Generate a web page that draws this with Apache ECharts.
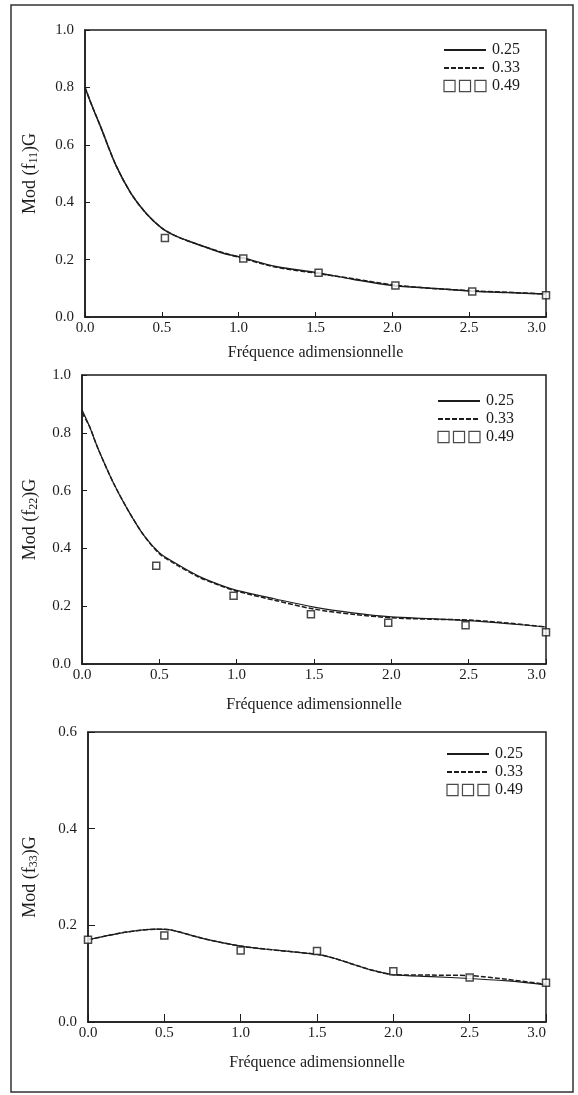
<!DOCTYPE html>
<html>
<head>
<meta charset="utf-8">
<script src="https://cdn.jsdelivr.net/npm/echarts/dist/echarts.min.js"></script>
<style>
  html, body { margin: 0; padding: 0; background: #fff; }
  #chart { width: 578px; height: 1095px; }
</style>
</head>
<body>
<div id="chart"></div>
<script>
  // fréquence adimensionnelle (axe x commun)
  var xTicks = [0, 0.5, 1.0, 1.5, 2.0, 2.5, 3.0];

  // Mod(f11)G
  var x11 = [0, 0.05, 0.1, 0.2, 0.3, 0.4, 0.5, 0.6, 0.75, 0.9, 1.0, 1.25, 1.5, 1.75, 2.0, 2.25, 2.5, 2.75, 3.0];
  var f11_025 = [0.80, 0.73, 0.665, 0.53, 0.43, 0.36, 0.31, 0.28, 0.25, 0.222, 0.21, 0.175, 0.155, 0.131, 0.11, 0.10, 0.091, 0.085, 0.08];
  var f11_033 = [0.80, 0.73, 0.665, 0.53, 0.43, 0.36, 0.31, 0.28, 0.25, 0.224, 0.208, 0.173, 0.153, 0.133, 0.112, 0.10, 0.092, 0.086, 0.08];
  var x11_049 = [0.52, 1.03, 1.52, 2.02, 2.52, 3.0];
  var f11_049 = [0.275, 0.204, 0.154, 0.11, 0.089, 0.076];

  // Mod(f22)G
  var x22 = [0, 0.05, 0.1, 0.2, 0.3, 0.4, 0.5, 0.6, 0.75, 0.9, 1.0, 1.25, 1.5, 1.75, 2.0, 2.25, 2.5, 2.75, 3.0];
  var f22_025 = [0.88, 0.82, 0.75, 0.63, 0.53, 0.445, 0.385, 0.35, 0.305, 0.272, 0.255, 0.225, 0.197, 0.177, 0.163, 0.157, 0.150, 0.140, 0.128];
  var f22_033 = [0.87, 0.82, 0.75, 0.63, 0.53, 0.445, 0.382, 0.347, 0.302, 0.27, 0.252, 0.22, 0.19, 0.172, 0.16, 0.155, 0.152, 0.142, 0.128];
  var x22_049 = [0.48, 0.98, 1.48, 1.98, 2.48, 3.0];
  var f22_049 = [0.34, 0.236, 0.172, 0.143, 0.134, 0.11];

  // Mod(f33)G
  var x33 = [0, 0.25, 0.45, 0.55, 0.75, 1.0, 1.25, 1.5, 1.6, 1.75, 1.85, 2.0, 2.25, 2.5, 2.75, 3.0];
  var f33_025 = [0.170, 0.186, 0.192, 0.190, 0.173, 0.157, 0.148, 0.140, 0.133, 0.118, 0.108, 0.098, 0.094, 0.090, 0.085, 0.077];
  var f33_033 = [0.170, 0.186, 0.192, 0.190, 0.173, 0.157, 0.148, 0.140, 0.133, 0.118, 0.108, 0.098, 0.097, 0.096, 0.088, 0.078];
  var x33_049 = [0, 0.5, 1.0, 1.5, 2.0, 2.5, 3.0];
  var f33_049 = [0.17, 0.179, 0.148, 0.147, 0.105, 0.092, 0.081];

  var serif = 'Liberation Serif, Times New Roman, serif';
  var ink = '#1c1c1c';

  function pairs(xs, ys) {
    return xs.map(function (x, i) { return [x, ys[i]]; });
  }

  var grids = [
    { left: 85, top: 30, width: 461, height: 287 },
    { left: 82, top: 375, width: 464, height: 289 },
    { left: 88, top: 732, width: 458, height: 290 }
  ];
  grids.forEach(function (g) {
    g.show = true;
    g.borderColor = ink;
    g.borderWidth = 1.5;
    g.backgroundColor = 'transparent';
  });

  function xAxis(idx, gap, tickLen) {
    return {
      gridIndex: idx, type: 'value', min: 0, max: 3.0, interval: 0.5,
      name: 'Fréquence adimensionnelle', nameLocation: 'middle', nameGap: gap,
      nameTextStyle: { fontFamily: serif, fontSize: 16, color: ink },
      axisLine: { lineStyle: { color: ink, width: 1.5 } },
      axisTick: { inside: true, length: tickLen, lineStyle: { color: ink } },
      axisLabel: {
        fontFamily: serif, fontSize: 15, color: ink, margin: 4,
        alignMaxLabel: 'right',
        formatter: function (v) { return v.toFixed(1); }
      },
      splitLine: { show: false }
    };
  }

  function yAxis(idx, max, interval, sub, gap, tickLen) {
    return {
      gridIndex: idx, type: 'value', min: 0, max: max, interval: interval,
      name: 'Mod (f{s|' + sub + '})G', nameLocation: 'middle', nameGap: gap, nameRotate: 90,
      nameTextStyle: {
        fontFamily: serif, fontSize: 18, color: ink,
        rich: { s: { fontFamily: serif, fontSize: 12, color: ink, padding: [8, 0, 0, 0] } }
      },
      axisLine: { lineStyle: { color: ink, width: 1.5 } },
      axisTick: { inside: true, length: tickLen, lineStyle: { color: ink } },
      axisLabel: {
        fontFamily: serif, fontSize: 15, color: ink, margin: 11,
        formatter: function (v) { return v.toFixed(1); }
      },
      splitLine: { show: false }
    };
  }

  function lineSeries(idx, name, xs, ys, dashed, width) {
    return {
      name: name, type: 'line', xAxisIndex: idx, yAxisIndex: idx,
      data: pairs(xs, ys), smooth: 0.3, symbol: 'none',
      lineStyle: { color: ink, width: width, type: dashed ? [5, 2] : 'solid' },
      itemStyle: { color: ink },
      z: dashed ? 3 : 2
    };
  }

  function squareSeries(idx, xs, ys) {
    return {
      name: '0.49', type: 'scatter', xAxisIndex: idx, yAxisIndex: idx,
      data: pairs(xs, ys), symbol: 'rect', symbolSize: 7,
      itemStyle: { color: '#fff', borderColor: ink, borderWidth: 1.5 },
      z: 4
    };
  }

  var squaresIcon = 'path://M0,0H10V10H0Z M14,0H24V10H14Z M28,0H38V10H28Z';

  function legend(left, top) {
    return {
      left: left, top: top, orient: 'vertical', selectedMode: false,
      itemWidth: 42, itemHeight: 12, itemGap: 2,
      textStyle: { fontFamily: serif, fontSize: 16, color: ink, lineHeight: 15, padding: [0, 0, 0, 1] },
      data: [
        { name: '0.25', itemStyle: { opacity: 0 } },
        { name: '0.33', itemStyle: { opacity: 0 } },
        { name: '0.49', icon: squaresIcon, itemStyle: { color: '#fff', borderColor: ink, borderWidth: 1.2 } }
      ]
    };
  }

  var chart = echarts.init(document.getElementById('chart'), null, { renderer: 'canvas' });
  chart.setOption({
    backgroundColor: '#fff',
    animation: false,
    graphic: [{
      type: 'rect', silent: true, z: -10,
      shape: { x: 11, y: 5, width: 562, height: 1087 },
      style: { fill: null, stroke: '#333', lineWidth: 1.5 }
    }],
    legend: [legend(438, 37), legend(432, 388), legend(441, 741)],
    grid: grids,
    xAxis: [xAxis(0, 28, 5), xAxis(1, 33, 5), xAxis(2, 33, 8)],
    yAxis: [yAxis(0, 1.0, 0.2, '11', 45, 5), yAxis(1, 1.0, 0.2, '22', 42, 5), yAxis(2, 0.6, 0.2, '33', 48, 7)],
    series: [
      lineSeries(0, '0.25', x11, f11_025, false, 1.5),
      lineSeries(0, '0.33', x11, f11_033, true, 1.5),
      squareSeries(0, x11_049, f11_049),
      lineSeries(1, '0.25', x22, f22_025, false, 1.2),
      lineSeries(1, '0.33', x22, f22_033, true, 1.5),
      squareSeries(1, x22_049, f22_049),
      lineSeries(2, '0.25', x33, f33_025, false, 1.2),
      lineSeries(2, '0.33', x33, f33_033, true, 1.5),
      squareSeries(2, x33_049, f33_049)
    ]
  });
</script>
</body>
</html>
